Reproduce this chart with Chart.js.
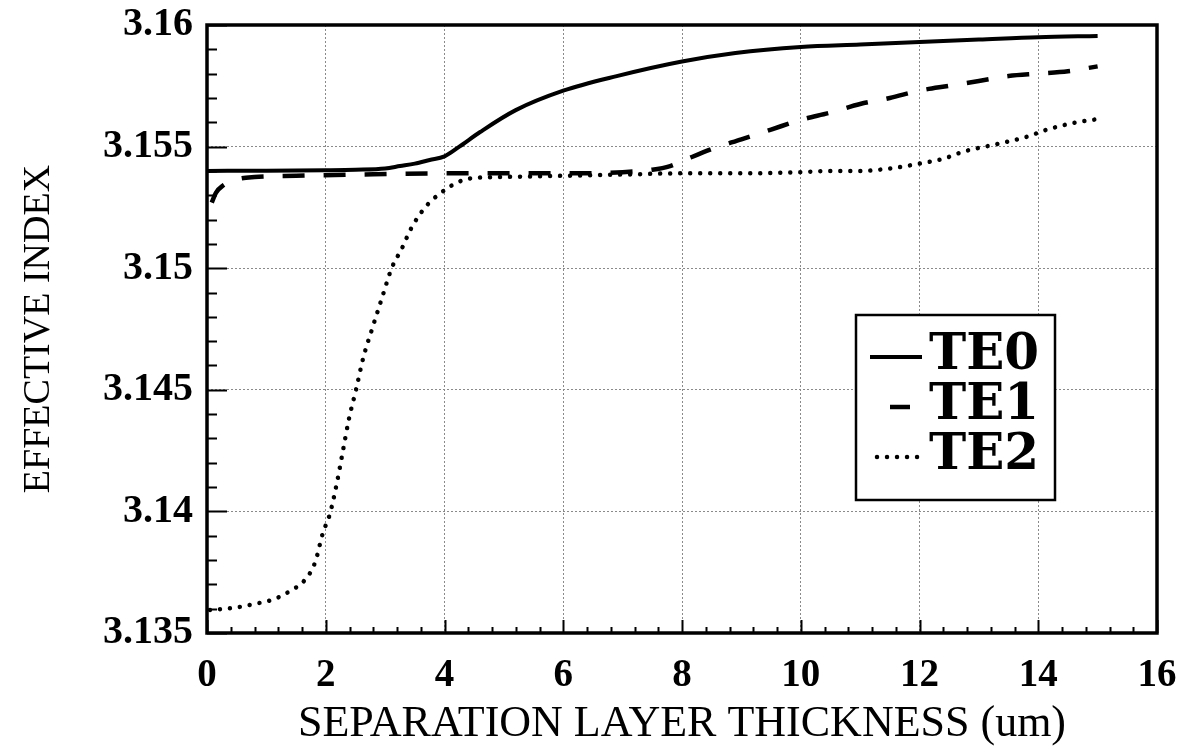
<!DOCTYPE html>
<html>
<head>
<meta charset="utf-8">
<script src="https://cdn.jsdelivr.net/npm/chart.js@4.4.1/dist/chart.umd.min.js"></script>
<style>
  html, body { margin: 0; padding: 0; background: #fff; }
</style>
</head>
<body>
<canvas id="myChart" width="1180" height="753"></canvas>
<script>
// tick labels
const xTicks = [0, 2, 4, 6, 8, 10, 12, 14, 16];
const yTicks = [3.135, 3.14, 3.145, 3.15, 3.155, 3.16];

// TE0 (solid)
const te0X = [0, 1, 2, 2.5, 3, 3.25, 3.5, 3.75, 4.0, 4.25, 4.6, 5.2, 6.0, 6.9, 8.0, 8.9, 10, 11, 12, 13, 14, 15];
const te0Y = [3.1540, 3.15401, 3.15403, 3.15405, 3.1541, 3.1542, 3.1543, 3.15445, 3.1546, 3.1550, 3.1556, 3.1565,
  3.1573, 3.1579, 3.1585, 3.15885, 3.1591, 3.1592, 3.1593, 3.1594, 3.1595, 3.15955];

// TE1 (dashed)
const te1X = [0.08, 0.15, 0.27, 0.5, 0.8, 1.5, 2.5, 4, 5, 6, 7, 7.5, 7.8, 8, 8.5, 9, 9.5, 10, 10.5, 11, 11.5, 12,
  12.5, 13, 13.5, 14, 14.5, 15];
const te1Y = [3.1527, 3.1531, 3.1534, 3.15365, 3.15375, 3.1538, 3.15385, 3.1539, 3.1539, 3.1539, 3.15395, 3.15405,
  3.1542, 3.1544, 3.1549, 3.1553, 3.1557, 3.1561, 3.1564, 3.15675, 3.157, 3.1573, 3.1575, 3.1577, 3.1579, 3.158,
  3.1581, 3.1583];

// TE2 (dotted)
const te2X = [0.05, 0.44, 0.81, 1.14, 1.45, 1.62, 1.82, 1.95, 2.07, 2.19, 2.29, 2.39, 2.51, 2.63, 2.78, 2.95, 3.11,
  3.28, 3.43, 3.64, 3.79, 3.94, 4.12, 4.29, 4.46, 5, 6, 7, 8, 9, 10, 10.5, 11, 11.5, 12, 12.4, 12.75, 13.3, 13.8,
  14.15, 14.65, 15];
const te2Y = [3.13595, 3.13603, 3.1362, 3.1364, 3.1368, 3.1371, 3.1379, 3.1391, 3.1399, 3.1412, 3.1425, 3.1438,
  3.145, 3.1463, 3.1475, 3.1488, 3.15, 3.1508, 3.1516, 3.1524, 3.1528, 3.1531, 3.1534, 3.1536, 3.1537, 3.15375,
  3.1538, 3.15385, 3.1539, 3.1539, 3.15395, 3.154, 3.154, 3.1541, 3.1543, 3.1545, 3.1548, 3.1551, 3.1554, 3.1557,
  3.156, 3.15613];

const serif = "'Liberation Serif', 'Times New Roman', serif";

function toPoints(xs, ys) {
  return xs.map((x, i) => ({ x: x, y: ys[i] }));
}

// frame, inward tick marks and the boxed legend
const framePlugin = {
  id: "framePlugin",
  beforeDraw(chart) {
    const ctx = chart.ctx;
    ctx.save();
    ctx.fillStyle = "#fff";
    ctx.fillRect(0, 0, chart.width, chart.height);
    ctx.restore();
  },
  afterDraw(chart) {
    const { ctx, chartArea: a, scales } = chart;
    const sx = scales.x, sy = scales.y;
    ctx.save();
    ctx.strokeStyle = "#000";
    ctx.lineWidth = 2;
    ctx.beginPath();
    for (let i = 0; i <= 40; i++) {
      const px = Math.round(sx.getPixelForValue(i * 0.4)) + 0.5;
      const len = i % 5 === 0 ? 13 : 6;
      ctx.moveTo(px, a.bottom);
      ctx.lineTo(px, a.bottom - len);
    }
    for (let i = 0; i <= 25; i++) {
      const py = Math.round(sy.getPixelForValue(3.135 + i * 0.001)) + 0.5;
      const len = i % 5 === 0 ? 20 : 10;
      ctx.moveTo(a.left, py);
      ctx.lineTo(a.left + len, py);
    }
    ctx.stroke();

    ctx.lineWidth = 3.5;
    ctx.strokeRect(a.left, a.top, a.right - a.left, a.bottom - a.top);

    // legend box
    const bx = 856, by = 315, bw = 199, bh = 185;
    ctx.fillStyle = "#fff";
    ctx.fillRect(bx, by, bw, bh);
    ctx.lineWidth = 2.5;
    ctx.strokeRect(bx, by, bw, bh);

    const starts = [870, 890, 877];
    const ends = [922, 910, 922];
    ctx.font = "bold 50px 'DejaVu Serif', serif";
    ctx.fillStyle = "#000";
    ctx.textBaseline = "alphabetic";
    chart.data.datasets.forEach((ds, i) => {
      const ty = 369 + i * 50;
      const ly = ty - 12;
      ctx.save();
      ctx.lineWidth = ds.borderWidth;
      ctx.lineCap = ds.borderCapStyle || "butt";
      ctx.setLineDash(i === 1 ? [] : (ds.borderDash || []));
      ctx.beginPath();
      ctx.moveTo(starts[i], ly);
      ctx.lineTo(ends[i], ly);
      ctx.stroke();
      ctx.restore();
      ctx.fillText(ds.label, 929, ty);
    });
    ctx.restore();
  }
};

let ctx = document.getElementById("myChart").getContext("2d");

let myChart = new Chart(ctx, {
  type: "line",
  data: {
    datasets: [
      {
        label: "TE0",
        data: toPoints(te0X, te0Y),
        borderColor: "#000",
        borderWidth: 4,
        pointRadius: 0,
        cubicInterpolationMode: "monotone",
      },
      {
        label: "TE1",
        data: toPoints(te1X, te1Y),
        borderColor: "#000",
        borderWidth: 4.5,
        borderDash: [22, 19],
        pointRadius: 0,
        cubicInterpolationMode: "monotone",
      },
      {
        label: "TE2",
        data: toPoints(te2X, te2Y),
        borderColor: "#000",
        borderWidth: 4.5,
        borderDash: [0.01, 10],
        borderCapStyle: "round",
        pointRadius: 0,
        cubicInterpolationMode: "monotone",
      },
    ],
  },
  options: {
    responsive: false,
    animation: false,
    layout: { padding: { top: 25, right: 23, left: 0, bottom: 0 } },
    plugins: {
      legend: { display: false },
      tooltip: { enabled: false },
    },
    scales: {
      x: {
        type: "linear",
        min: 0,
        max: 16,
        afterBuildTicks: (s) => { s.ticks = xTicks.map((v) => ({ value: v })); },
        afterFit: (s) => { s.height = 120; s.paddingLeft = 0; s.paddingRight = 0; },
        ticks: {
          color: "#000",
          padding: 20,
          maxRotation: 0,
          font: { family: serif, size: 39, weight: "bold" },
        },
        grid: { color: "#8a8a8a", lineWidth: 1, drawTicks: false },
        border: { display: false, dash: [2, 2] },
        title: {
          display: true,
          text: "SEPARATION LAYER THICKNESS (um)",
          color: "#000",
          font: { family: serif, size: 44, weight: "normal" },
          padding: { top: 0, bottom: 2 },
        },
      },
      y: {
        type: "linear",
        min: 3.135,
        max: 3.16,
        afterBuildTicks: (s) => { s.ticks = yTicks.map((v) => ({ value: v })); },
        afterFit: (s) => { s.width = 207; s.paddingTop = 0; s.paddingBottom = 0; },
        ticks: {
          color: "#000",
          padding: 14,
          font: { family: serif, size: 40, weight: "bold" },
          callback: (v) => String(parseFloat(Number(v).toFixed(3))),
        },
        grid: { color: "#8a8a8a", lineWidth: 1, drawTicks: false },
        border: { display: false, dash: [2, 2] },
        title: {
          display: true,
          text: "EFFECTIVE INDEX",
          color: "#000",
          font: { family: serif, size: 38, weight: "normal" },
          padding: { top: 16, bottom: 0 },
        },
      },
    },
  },
  plugins: [framePlugin],
});
</script>
</body>
</html>
